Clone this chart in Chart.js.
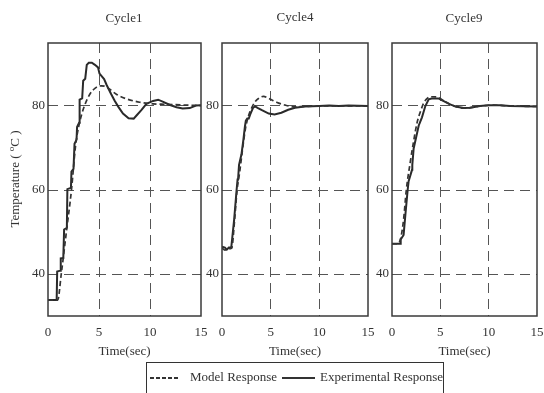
<!DOCTYPE html>
<html><head><meta charset="utf-8">
<script src="https://cdn.jsdelivr.net/npm/chart.js@4/dist/chart.umd.min.js"></script>
<style>
body{margin:0;width:544px;height:393px;background:#fff;position:relative;overflow:hidden;font-family:'Liberation Serif','Times New Roman',serif;color:#333}
canvas{position:absolute;left:0;top:0}
.t{position:absolute;font-size:13px;transform:translate(-50%,-50%);white-space:nowrap}
#ytitle{position:absolute;left:-45px;top:171px;width:120px;height:16px;line-height:16px;text-align:center;font-size:13px;transform:rotate(-90deg);transform-origin:60px 8px;white-space:nowrap;color:#333}
#legend{position:absolute;left:146px;top:362px;width:298px;height:40px;border:1px solid #333;box-sizing:border-box}
.sw{position:absolute;height:2px;top:377px}
.lt{position:absolute;font-size:13px;top:377px;transform:translateY(-50%);white-space:nowrap}
</style></head><body>
<canvas id="c1" width="544" height="393"></canvas>
<canvas id="c2" width="544" height="393"></canvas>
<canvas id="c3" width="544" height="393"></canvas>
<div class="t" style="left:124px;top:18px">Cycle1</div>
<div class="t" style="left:295px;top:17px">Cycle4</div>
<div class="t" style="left:464px;top:18px">Cycle9</div>
<div id="ytitle">Temperature ( <sup style="font-size:9px;line-height:0">o</sup>C )</div>
<div id="legend"></div>
<div class="sw" style="left:150px;width:28px;background:repeating-linear-gradient(to right,#333 0 4px,transparent 4px 6px)"></div>
<div class="lt" style="left:190px">Model Response</div>
<div class="sw" style="left:282px;width:33px;background:#333"></div>
<div class="lt" style="left:320px">Experimental Response</div>
<script>
const xTicks = [0, 5, 10, 15];
const yTicks = [40, 60, 80];
const seriesNames = ['Model Response', 'Experimental Response'];

// Cycle 1
const c1ModelT = [0, 0.95, 1.3, 1.8, 2.3, 2.7, 3.0, 3.3, 3.6, 4.1, 4.6, 5.2, 5.6, 6.05, 6.7, 7.7, 9.0, 10.3, 11.6, 13.6, 15];
const c1ModelV = [33.8, 33.8, 40, 50, 60, 70.5, 75, 78, 80.2, 82.8, 84.2, 84.8, 84.7, 84.0, 82.8, 81.7, 80.9, 80.5, 80.4, 80.2, 80.1];
const c1ExpT = [0, 0.85, 0.9, 1.2, 1.25, 1.5, 1.58, 1.85, 1.9, 2.25, 2.3, 2.5, 2.6, 2.8, 2.85, 3.05, 3.1, 3.35, 3.45, 3.65, 3.8, 4.0, 4.3, 4.6, 4.9, 5.05, 5.5, 5.75, 6.2, 6.55, 6.9, 7.35, 7.9, 8.4, 8.7, 9.15, 9.65, 10.3, 10.8, 11.3, 11.9, 12.6, 13.2, 13.9, 14.5, 15];
const c1ExpV = [33.8, 33.8, 40.6, 40.8, 43.7, 43.8, 50.6, 51, 60.2, 60.5, 64.4, 65, 71, 72, 75, 76, 81.5, 81.8, 86, 86.5, 89.8, 90.3, 90.3, 89.8, 89.2, 87.7, 86.4, 85.0, 82.8, 81.2, 79.8, 78.2, 77.1, 77.0, 77.8, 79, 80.5, 81.2, 81.5, 81.0, 80.3, 79.7, 79.4, 79.5, 80.1, 80.2];

// Cycle 4
const c4ModelT = [0, 0.3, 0.6, 1.0, 1.3, 1.55, 1.8, 2.1, 2.4, 2.7, 3.1, 3.4, 3.75, 4.25, 4.9, 5.6, 6.5, 7.5, 8.5, 10, 15];
const c4ModelV = [46.2, 45.7, 46, 46.2, 53, 60, 64, 69.5, 74.5, 77.5, 79.8, 81, 81.8, 82.3, 81.7, 80.9, 80.2, 79.8, 79.9, 80, 80];
const c4ExpT = [0, 0.3, 0.5, 0.7, 0.95, 1.25, 1.5, 1.6, 1.65, 1.75, 2.0, 2.2, 2.35, 2.45, 2.6, 2.75, 2.9, 3.2, 3.4, 3.7, 4.1, 4.8, 5.4, 6.1, 6.8, 7.5, 8.5, 10, 11, 12, 13, 15];
const c4ExpV = [46.5, 46.3, 45.8, 46.3, 46.3, 53, 60, 62.5, 62.5, 66, 68.5, 72, 75, 76.5, 77, 77, 78, 79.6, 79.9, 79.5, 79.0, 78.2, 78.0, 78.4, 79.1, 79.6, 79.9, 80, 80.1, 80, 80.1, 80];

// Cycle 9
const c9ModelT = [0, 0.6, 0.9, 1.2, 1.48, 1.9, 2.17, 2.6, 2.9, 3.3, 3.7, 4.1, 4.7, 5.3, 6.0, 6.7, 7.4, 8.1, 9.1, 10.5, 12.2, 15];
const c9ModelV = [47.2, 47.2, 48.5, 53, 60, 66.8, 70.7, 76.1, 78.4, 80.8, 81.9, 82.2, 82.1, 81.3, 80.4, 79.8, 79.5, 79.6, 80, 80.2, 80, 79.9];
const c9ExpT = [0, 0.86, 0.9, 1.2, 1.38, 1.62, 1.72, 2.07, 2.1, 2.24, 2.76, 3.1, 3.45, 3.8, 4.1, 4.8, 5.3, 6.0, 6.7, 7.4, 8.1, 9.1, 10.0, 11.2, 12.2, 15];
const c9ExpV = [47.2, 47.2, 48.2, 49.3, 54, 60, 62.1, 64.8, 66, 69.9, 75.3, 77.3, 80, 81.6, 81.8, 81.8, 81.2, 80.4, 79.8, 79.5, 79.6, 80, 80.2, 80.2, 80, 79.9];

const FONT = "'Liberation Serif','Times New Roman',serif";
const boxPlugin = {
  id: 'box',
  afterDraw(chart) {
    const a = chart.chartArea, c = chart.ctx;
    c.save(); c.strokeStyle = '#3a3a3a'; c.lineWidth = 1.5;
    c.strokeRect(a.left, a.top, a.right - a.left, a.bottom - a.top);
    c.restore();
  }
};

function pts(t, v) { return t.map((x, i) => ({ x: x, y: v[i] })); }

function makeChart(id, mT, mV, eT, eV, pad) {
  new Chart(document.getElementById(id), {
    type: 'line',
    data: {
      datasets: [
        { label: seriesNames[0], data: pts(mT, mV), borderColor: '#333', borderWidth: 1.7, borderDash: [5, 3], pointRadius: 0, cubicInterpolationMode: 'monotone', fill: false },
        { label: seriesNames[1], data: pts(eT, eV), borderColor: '#2a2a2a', borderWidth: 2, pointRadius: 0, tension: 0, fill: false }
      ]
    },
    options: {
      responsive: false, animation: false, devicePixelRatio: 1,
      layout: { padding: pad },
      plugins: { legend: { display: false }, tooltip: { enabled: false }, title: { display: false } },
      scales: {
        x: {
          type: 'linear', min: 0, max: 15,
          afterBuildTicks: s => { s.ticks = xTicks.map(v => ({ value: v })); },
          afterFit: s => { s.height = 43; s.paddingLeft = 0; s.paddingRight = 0; },
          grid: { drawTicks: false, color: c => (c.tick && (c.tick.value === 0 || c.tick.value === 15)) ? 'rgba(0,0,0,0)' : '#555', lineWidth: 1 },
          border: { display: false, dash: [10, 6] },
          ticks: { padding: 9, color: '#333', font: { family: FONT, size: 13 }, maxRotation: 0 },
          title: { display: true, text: 'Time(sec)', color: '#333', font: { family: FONT, size: 13 }, padding: 0 }
        },
        y: {
          type: 'linear', min: 30, max: 95,
          afterBuildTicks: s => { s.ticks = yTicks.map(v => ({ value: v })); },
          afterFit: s => { s.width = 30; s.paddingTop = 0; s.paddingBottom = 0; },
          grid: { drawTicks: false, color: '#555', lineWidth: 1 },
          border: { display: false, dash: [10, 6] },
          ticks: { padding: 3, color: '#333', font: { family: FONT, size: 13 } }
        }
      }
    },
    plugins: [boxPlugin]
  });
}

makeChart('c1', c1ModelT, c1ModelV, c1ExpT, c1ExpV, { left: 18, right: 343, top: 43, bottom: 34 });
makeChart('c2', c4ModelT, c4ModelV, c4ExpT, c4ExpV, { left: 192, right: 176, top: 43, bottom: 34 });
makeChart('c3', c9ModelT, c9ModelV, c9ExpT, c9ExpV, { left: 362, right: 7, top: 43, bottom: 34 });
</script>
</body></html>
